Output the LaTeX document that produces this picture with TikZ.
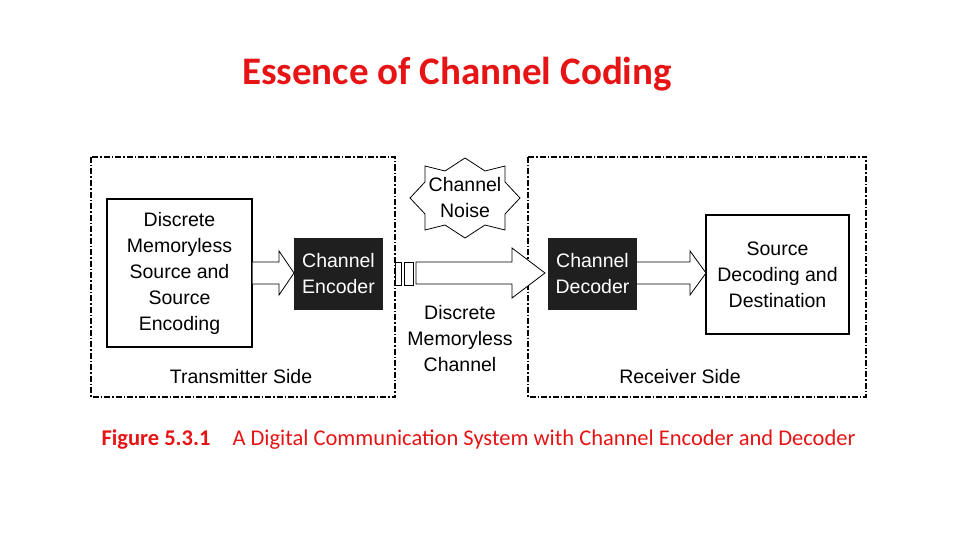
\documentclass[tikz,border=0pt]{standalone}
\usepackage{fontspec}
\setmainfont{Liberation Sans}
\newfontfamily\carlitofont{Carlito}
\definecolor{tred}{RGB}{230,20,20}
\begin{document}
\begin{tikzpicture}[x=1pt,y=-1pt,
  lbl/.style={font=\fontsize{19.5}{26}\selectfont,align=center,inner sep=0},
  dd/.style={draw,line width=1.2pt,dash pattern=on 6pt off 2pt on 1.5pt off 2pt},
  wbox/.style={draw,line width=1.2pt,fill=white},
  bbox/.style={fill=black!88,text=white,font=\fontsize{19.5}{26}\selectfont,align=center},
  barrow/.style={draw,line width=0.8pt,fill=white}]
\useasboundingbox (0,0) rectangle (960,540);
\node[text=tred,font=\carlitofont\bfseries\fontsize{39}{44}\selectfont] (title) at (457,74) {Essence of Channel Coding};
\draw[dd] (91,157) rectangle (395,397);
\draw[dd] (528,157) rectangle (866,397);
\node[wbox,minimum width=145,minimum height=148,lbl] (src) at (179.5,273) {Discrete\\Memoryless\\Source and\\Source\\Encoding};
\node[bbox,minimum width=89,minimum height=72] (enc) at (338.5,274) {Channel\\Encoder};
\node[bbox,minimum width=89,minimum height=72] (dec) at (592.5,274) {Channel\\Decoder};
\node[wbox,minimum width=143,minimum height=119,lbl] (dst) at (777.5,274.5) {Source\\Decoding and\\Destination};
\node[lbl] (dmc) at (460,339) {Discrete\\Memoryless\\Channel};
\node[lbl] (tx) at (241,377) {Transmitter Side};
\node[lbl] (rx) at (680,377) {Receiver Side};
% arrows
\draw[barrow] (src.east|-0,262) -- (279,262) -- (279,251) -- (294,273) -- (279,295) -- (279,284) -- (src.east|-0,284);
\draw[barrow] (dec.east|-0,262) -- (690,262) -- (690,251) -- (706,273) -- (690,295) -- (690,284) -- (dec.east|-0,284);
\draw[barrow] (416,262) -- (512,262) -- (512,248) -- (545,273) -- (512,298) -- (512,284) -- (416,284) -- cycle;
\draw[line width=0.8pt] (395,262) rectangle (401,285);
\draw[line width=0.8pt] (404,262) rectangle (413,285);
% noise star
\coordinate (nc) at (465,198);
\draw[line width=0.8pt,fill=white] (465,158) -- (485,171) -- (505,166) -- (505,182) -- (520,198) -- (505,214) -- (505,230) -- (485,225) -- (465,238) -- (445,225) -- (425,230) -- (425,214) -- (410,198) -- (425,182) -- (425,166) -- (445,171) -- cycle;
\node[lbl] (noise) at (nc) {Channel\\Noise};
\node[anchor=west,text=tred,font=\carlitofont\bfseries\fontsize{22.5}{26}\selectfont] (fig) at (98,440) {Figure 5.3.1};
\node[anchor=west,text=tred,font=\carlitofont\fontsize{22.5}{26}\selectfont] (cap) at (229,440) {A Digital Communication System with Channel Encoder and Decoder};
\end{tikzpicture}
\end{document}
